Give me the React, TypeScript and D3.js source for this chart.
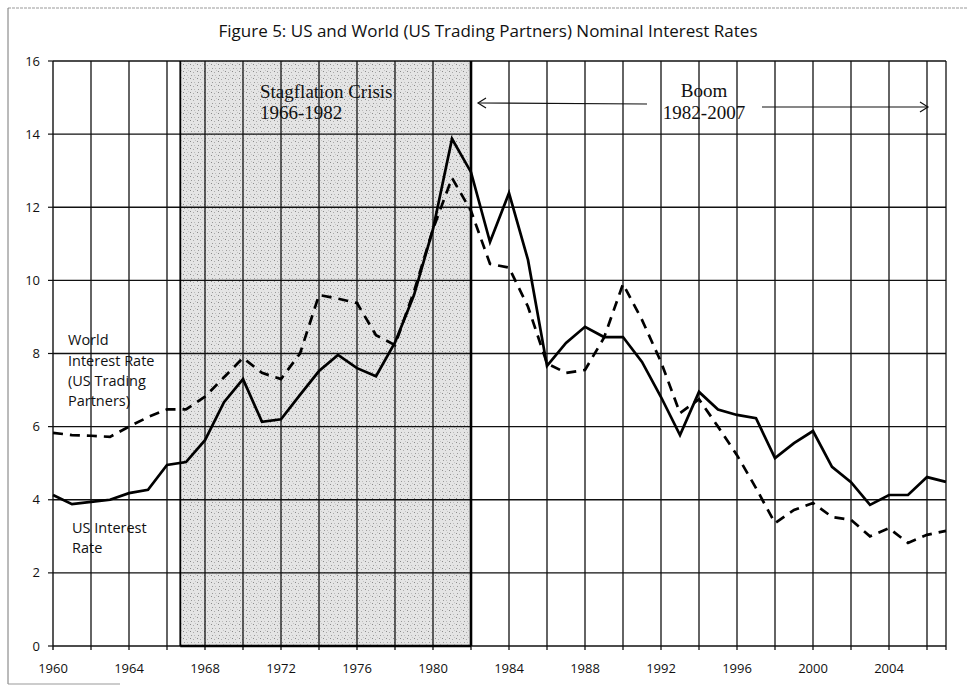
import React from "react";
import * as d3 from "d3";

// years 1960..2007
const years = d3.range(1960, 2008);

const usRate = [
  4.13, 3.88, 3.94, 4.0, 4.18, 4.27, 4.95, 5.03, 5.63, 6.67,
  7.3, 6.13, 6.2, 6.87, 7.52, 7.96, 7.6, 7.38, 8.3, 9.6,
  11.4, 13.87, 12.96, 11.05, 12.39, 10.56, 7.66, 8.29, 8.73, 8.45,
  8.45, 7.77, 6.81, 5.77, 6.95, 6.47, 6.32, 6.23, 5.14, 5.55,
  5.88, 4.9, 4.48, 3.86, 4.13, 4.13, 4.62, 4.49,
];

const worldRate = [
  5.83, 5.77, 5.75, 5.72, 6.0, 6.26, 6.47, 6.47, 6.82, 7.35,
  7.88, 7.47, 7.3, 8.0, 9.6, 9.5, 9.38, 8.5, 8.23, 9.7,
  11.4, 12.8, 11.9, 10.45, 10.35, 9.28, 7.73, 7.47, 7.55, 8.43,
  9.9, 8.92, 7.77, 6.37, 6.75, 6.0, 5.22, 4.32, 3.36, 3.72,
  3.91, 3.53, 3.45, 3.0, 3.22, 2.82, 3.04, 3.15,
];

const yTicks = [0, 2, 4, 6, 8, 10, 12, 14, 16];
const xLabels = [1960, 1964, 1968, 1972, 1976, 1980, 1984, 1988, 1992, 1996, 2000, 2004];
const gridYears = d3.range(1962, 2008, 2).concat([2007]);

const crisisStart = 1966.7;
const crisisEnd = 1982;

const title = "Figure 5: US and World (US Trading Partners) Nominal Interest Rates";

export default function App() {
  const x = d3.scaleLinear().domain([1960, 2007]).range([53, 946]);
  const y = d3.scaleLinear().domain([0, 16]).range([646, 61]);

  const line = d3
    .line<number>()
    .x((_, i) => x(years[i]))
    .y((d) => y(d));

  const sans = "'Open Sans', 'Noto Sans', sans-serif";
  const serif = "'Liberation Serif', 'DejaVu Serif', serif";

  return (
    <svg
      width={973}
      height={692}
      style={{ position: "absolute", left: 0, top: 0, background: "#fff" }}
    >
      <defs>
        <pattern id="stipple" width="7" height="7" patternUnits="userSpaceOnUse">
          <rect width="7" height="7" fill="#e4e4e4" />
          <rect x="1" y="1" width="1" height="1" fill="#8a8a8a" />
          <rect x="4" y="2" width="1" height="1" fill="#aaa" />
          <rect x="2" y="5" width="1" height="1" fill="#999" />
          <rect x="5" y="5" width="1" height="1" fill="#bbb" />
          <rect x="6" y="0" width="1" height="1" fill="#c4c4c4" />
        </pattern>
      </defs>

      {/* frame */}
      <line x1={8} x2={968} y1={8} y2={8} stroke="#999" strokeWidth={1} strokeDasharray="3,1" />
      <line x1={8} x2={8} y1={8} y2={684} stroke="#777" strokeWidth={1} />
      <line x1={8} x2={120} y1={684} y2={684} stroke="#999" strokeWidth={1} />

      <text x={488} y={37} textAnchor="middle" fontFamily={sans} fontSize={17} fill="#111">
        {title}
      </text>

      {/* shaded crisis band */}
      <rect
        x={x(crisisStart)}
        y={y(16)}
        width={x(crisisEnd) - x(crisisStart)}
        height={y(0) - y(16)}
        fill="url(#stipple)"
      />

      {/* grid */}
      {yTicks.map((t) => (
        <line key={"h" + t} x1={x(1960)} x2={x(2007)} y1={y(t)} y2={y(t)} stroke="#111" strokeWidth={1.3} />
      ))}
      {gridYears.map((yr) => (
        <line key={"v" + yr} x1={x(yr)} x2={x(yr)} y1={y(16)} y2={y(0) + 4} stroke="#111" strokeWidth={1.3} />
      ))}
      <line x1={x(1960)} x2={x(1960)} y1={y(16)} y2={y(0) + 4} stroke="#111" strokeWidth={1.4} />
      <line x1={x(crisisStart)} x2={x(crisisStart)} y1={y(16)} y2={y(0)} stroke="#000" strokeWidth={1.8} />
      <line x1={x(crisisEnd)} x2={x(crisisEnd)} y1={y(16)} y2={y(0)} stroke="#000" strokeWidth={2.6} />
      <line x1={x(crisisStart)} x2={x(crisisEnd)} y1={y(0)} y2={y(0)} stroke="#000" strokeWidth={2.4} />

      {/* y tick labels */}
      {yTicks.map((t) => (
        <g key={"yl" + t}>
          <line x1={x(1960) - 5} x2={x(1960)} y1={y(t)} y2={y(t)} stroke="#111" strokeWidth={1.2} />
          <text x={40} y={y(t)} dy="0.35em" textAnchor="end" fontFamily={sans} fontSize={13} fill="#111">
            {t}
          </text>
        </g>
      ))}

      {/* x tick labels */}
      {xLabels.map((yr) => (
        <text key={"xl" + yr} x={x(yr)} y={673} textAnchor="middle" fontFamily={sans} fontSize={13} fill="#111">
          {yr}
        </text>
      ))}

      {/* series */}
      <path d={line(worldRate) || ""} fill="none" stroke="#000" strokeWidth={2.7} strokeDasharray="10,7" />
      <path d={line(usRate) || ""} fill="none" stroke="#000" strokeWidth={2.7} strokeLinejoin="miter" />

      {/* annotations */}
      <text fontFamily={serif} fontSize={19} fill="#111">
        <tspan x={260} y={98}>Stagflation Crisis</tspan>
        <tspan x={260} y={119}>1966-1982</tspan>
      </text>
      <text fontFamily={serif} fontSize={19} fill="#111" textAnchor="middle">
        <tspan x={704} y={97}>Boom</tspan>
        <tspan x={704} y={119}>1982-2007</tspan>
      </text>
      <line x1={478} x2={647} y1={103} y2={104} stroke="#111" strokeWidth={1.2} />
      <path d="M486,98 L478,103 L486,108" fill="none" stroke="#111" strokeWidth={1.2} />
      <line x1={762} x2={928} y1={107} y2={107} stroke="#111" strokeWidth={1.2} />
      <path d="M920,102 L928,107 L920,112" fill="none" stroke="#111" strokeWidth={1.2} />

      <text fontFamily={sans} fontSize={14.5} fill="#111">
        <tspan x={68} y={345}>World</tspan>
        <tspan x={68} y={366}>Interest Rate</tspan>
        <tspan x={68} y={386}>(US Trading</tspan>
        <tspan x={68} y={406}>Partners)</tspan>
      </text>
      <text fontFamily={sans} fontSize={14.5} fill="#111">
        <tspan x={72} y={533}>US Interest</tspan>
        <tspan x={72} y={553}>Rate</tspan>
      </text>
    </svg>
  );
}
